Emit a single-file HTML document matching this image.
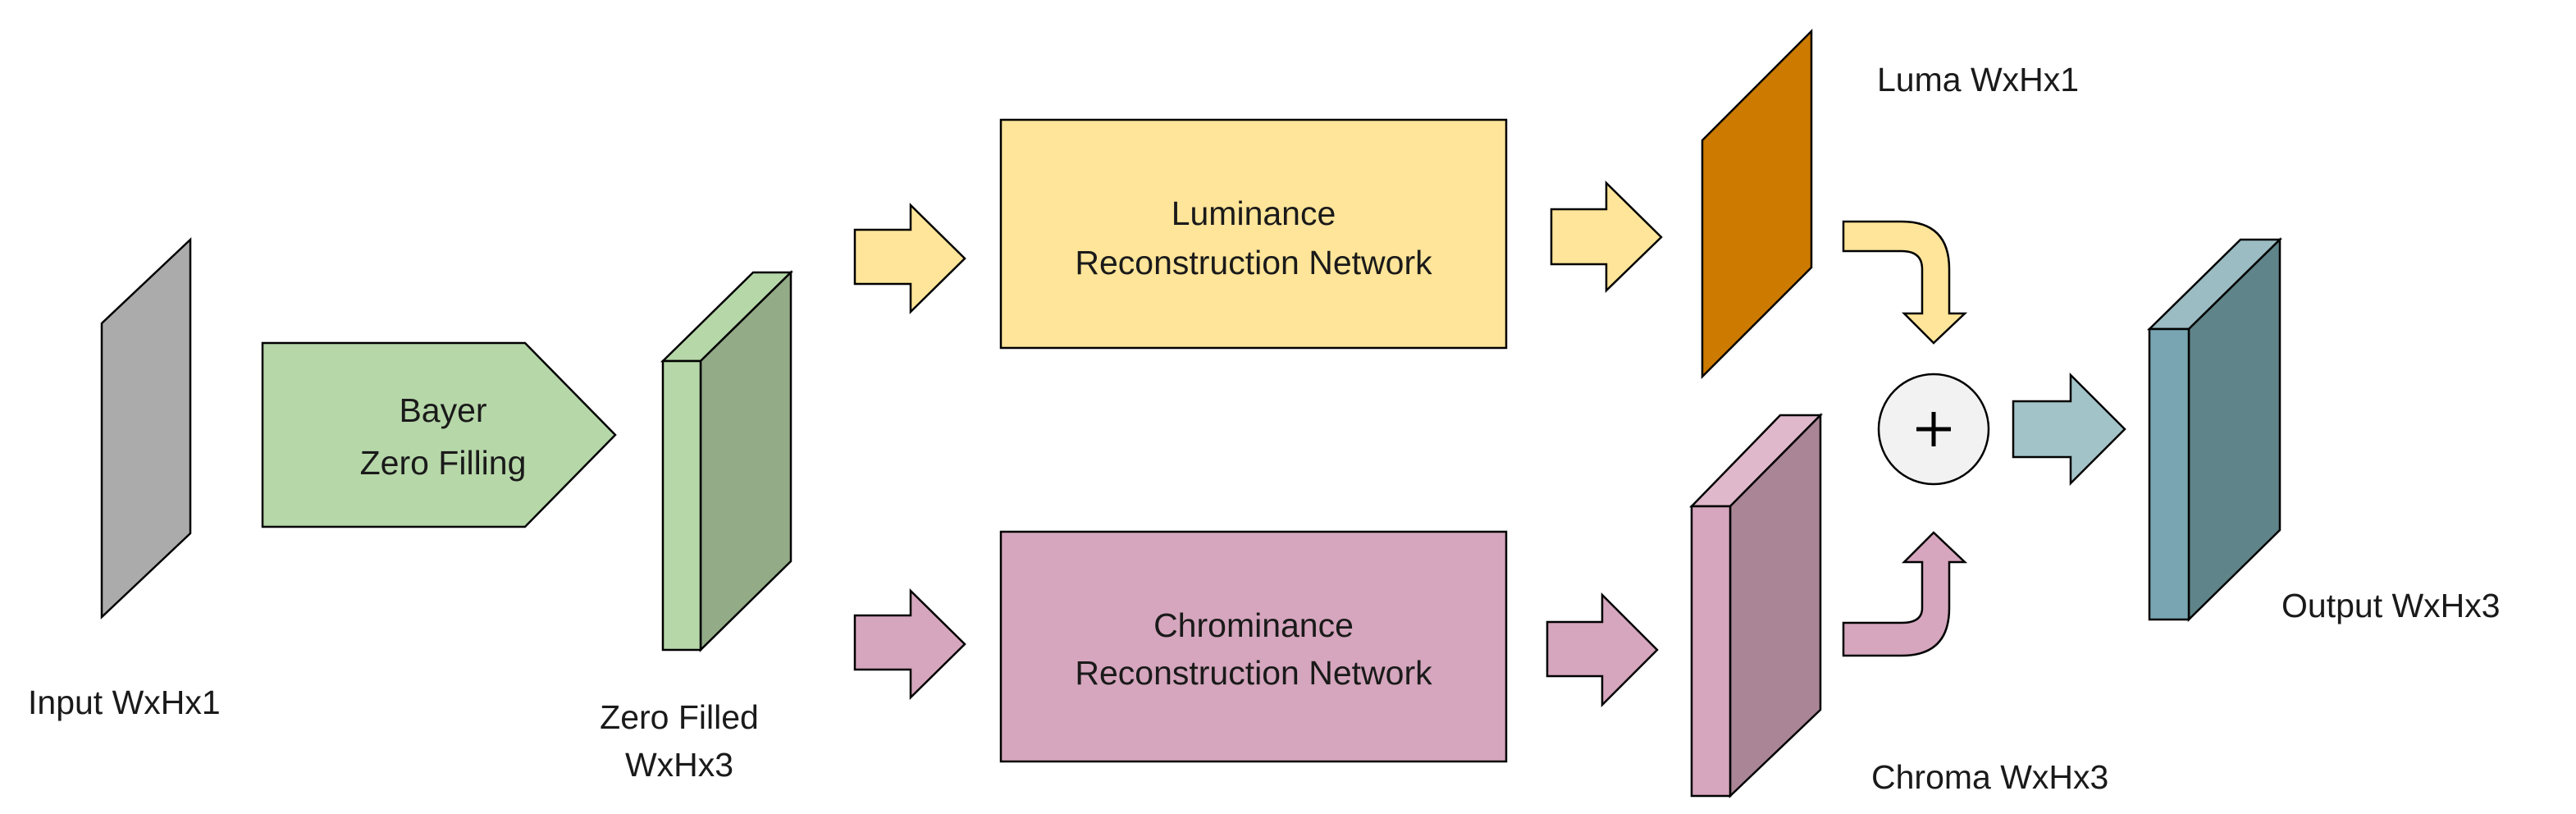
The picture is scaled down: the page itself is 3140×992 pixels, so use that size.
<!DOCTYPE html>
<html><head><meta charset="utf-8"><style>
html,body{margin:0;padding:0;background:#fff}
svg{display:block}
text{font-family:"Liberation Sans",Arial,sans-serif;fill:#1a1a1a}
</style></head><body>
<svg width="3140" height="992" viewBox="0 0 3140 992" xmlns="http://www.w3.org/2000/svg">
<g stroke="#000" stroke-width="2.5" stroke-linejoin="miter">
<polygon points="124,394 232,292 232,650 124,752" fill="#ababab"/>
<polygon points="320,418 640,418 750,530 640,642 320,642" fill="#b6d7a8"/>
<polygon points="808,440 918,332 964,332 854,440" fill="#b6d7a8"/>
<polygon points="854,440 964,332 964,684 854,792" fill="#93ab87"/>
<rect x="808" y="440" width="46" height="352" fill="#b6d7a8"/>
<polygon points="1042,280 1110,280 1110,250 1176,315 1110,380 1110,346 1042,346" fill="#ffe599"/>
<polygon points="1042,750 1110,750 1110,720 1176,785 1110,850 1110,816 1042,816" fill="#d5a6bd"/>
<rect x="1220" y="146" width="616" height="278" fill="#ffe599"/>
<rect x="1220" y="648" width="616" height="280" fill="#d5a6bd"/>
<polygon points="1891,255 1958,255 1958,223 2025,289 1958,354 1958,322 1891,322" fill="#ffe599"/>
<polygon points="1886,758 1953,758 1953,725 2020,792 1953,859 1953,824 1886,824" fill="#d5a6bd"/>
<polygon points="2075,171 2208,38 2208,326 2075,459" fill="#cc7a00"/>
<polygon points="2062,617 2170,506 2219,506 2109,617" fill="#e0b8cb"/>
<polygon points="2109,617 2219,506 2219,865 2109,970" fill="#aa8595"/>
<rect x="2062" y="617" width="47" height="353" fill="#d5a6bd"/>
<path d="M2247,270 L2318,270 Q2376,270 2376,328 L2376,382 L2395,382 L2357,418 L2321,382 L2343,382 L2343,328 Q2343,306 2318,306 L2247,306 Z" fill="#ffe599"/>
<path d="M2247,799 L2318,799 Q2376,799 2376,741 L2376,685 L2395,685 L2357,649 L2321,685 L2343,685 L2343,741 Q2343,759 2318,759 L2247,759 Z" fill="#d5a6bd"/>
<circle cx="2357" cy="523" r="67" fill="#f2f2f2"/>
<polygon points="2454,489 2524,489 2524,457 2590,523 2524,589 2524,557 2454,557" fill="#a2c4c9"/>
<polygon points="2620,401 2731,292 2779,292 2668,401" fill="#9abcc2"/>
<polygon points="2668,401 2779,292 2779,646 2668,755" fill="#5f8489"/>
<rect x="2620" y="401" width="48" height="354" fill="#78a5b1"/>
</g>
<g stroke="#000" stroke-width="5"><line x1="2357" y1="502" x2="2357" y2="544"/><line x1="2336" y1="523" x2="2378" y2="523"/></g>
<g font-size="41">
<text x="34" y="870">Input WxHx1</text>
<text x="540" y="514" text-anchor="middle">Bayer</text>
<text x="540" y="578" text-anchor="middle">Zero Filling</text>
<text x="828" y="888" text-anchor="middle">Zero Filled</text>
<text x="828" y="946" text-anchor="middle">WxHx3</text>
<text x="1528" y="274" text-anchor="middle">Luminance</text>
<text x="1528" y="334" text-anchor="middle">Reconstruction Network</text>
<text x="1528" y="776" text-anchor="middle">Chrominance</text>
<text x="1528" y="834" text-anchor="middle">Reconstruction Network</text>
<text x="2288" y="111">Luma WxHx1</text>
<text x="2281" y="961">Chroma WxHx3</text>
<text x="2781" y="752">Output WxHx3</text>
</g>
</svg>
</body></html>
